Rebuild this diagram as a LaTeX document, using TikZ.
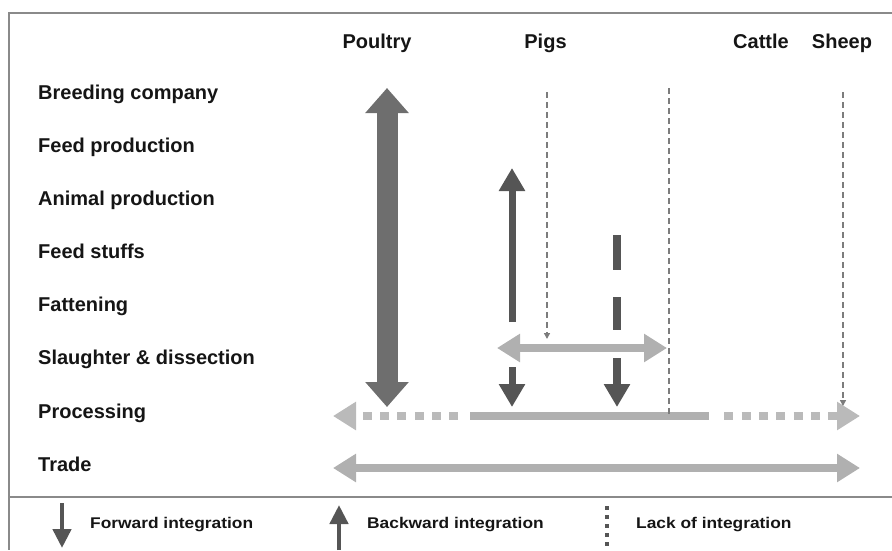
\documentclass[tikz,border=0pt]{standalone}
\usepackage{fontspec}
\setmainfont{Liberation Sans}
\newfontfamily\legfont[FakeStretch=1.12]{Liberation Sans}
\usetikzlibrary{arrows.meta}
\definecolor{txt}{HTML}{151515}
\definecolor{frame}{HTML}{8A8A8A}
\definecolor{dkarrow}{HTML}{555555}
\definecolor{poultry}{HTML}{6E6E6E}
\definecolor{ltarrow}{HTML}{B0B0B0}
\definecolor{ltdots}{HTML}{BABABA}
\definecolor{dashc}{HTML}{7C7C7C}
\tikzset{
  rowlabel/.style={anchor=base west,inner sep=0pt,text=txt,font=\fontsize{20}{24}\selectfont\bfseries},
  header/.style={anchor=base,inner sep=0pt,text=txt,font=\fontsize{20}{24}\selectfont\bfseries},
  legtext/.style={anchor=base west,inner sep=0pt,text=txt,font=\legfont\fontsize{15.5}{18}\selectfont\bfseries},
  bigtip/.tip={Triangle[width=42pt,length=25pt]},
  pigtip/.tip={Triangle[width=25pt,length=23pt]},
  hztip/.tip={Triangle[width=27pt,length=23pt]},
  smalltip/.tip={Triangle[width=6pt,length=6pt]},
  legtip/.tip={Triangle[width=18pt,length=19pt]},
  lackline/.style={draw=dashc,line width=2.2pt,dash pattern=on 6pt off 4pt},
}
\begin{document}
\begin{tikzpicture}[x=1pt,y=-1pt]
\useasboundingbox (0,0) rectangle (892,550);
% frame
\coordinate (fTL) at (9,13);
\coordinate (fTR) at (892,13);
\coordinate (fBL) at (9,550);
\coordinate (sL) at (9,497);
\coordinate (sR) at (892,497);
\draw[frame,line width=1.5pt] (fTR) -- (fTL) -- (fBL);
\draw[frame,line width=1.5pt] (sL) -- (sR);
% headers
\node[header] (hPoultry) at (377,48) {Poultry};
\node[header] (hPigs) at (545.5,48) {Pigs};
\node[header] (hCattle) at (761,48) {Cattle};
\node[header] (hSheep) at (842,48) {Sheep};
% row labels
\node[rowlabel] (r1) at (38,99) {Breeding company};
\node[rowlabel] (r2) at (38,152) {Feed production};
\node[rowlabel] (r3) at (38,205) {Animal production};
\node[rowlabel] (r4) at (38,258) {Feed stuffs};
\node[rowlabel] (r5) at (38,311.5) {Fattening};
\node[rowlabel] (r6) at (38,364.5) {Slaughter \& dissection};
\node[rowlabel] (r7) at (38,418) {Processing};
\node[rowlabel] (r8) at (38,471) {Trade};
% coordinates
\coordinate (pT) at (387,88);
\coordinate (pB) at (387,407);
\coordinate (bwB) at (512,322);
\coordinate (bwT) at (512,168);
\coordinate (fwT) at (512,367);
\coordinate (fwB) at (512,407);
\coordinate (d1a) at (617,235);
\coordinate (d1b) at (617,270);
\coordinate (d2a) at (617,297);
\coordinate (d2b) at (617,330);
\coordinate (f2T) at (617,358);
\coordinate (f2B) at (617,407);
\coordinate (lpT) at (547,92);
\coordinate (lpB) at (547,339);
\coordinate (lcT) at (669,88);
\coordinate (lcB) at (669,416);
\coordinate (lsT) at (843,92);
\coordinate (lsB) at (843,406);
\coordinate (sdL) at (497,348);
\coordinate (sdR) at (667,348);
\coordinate (prL) at (333,416);
\coordinate (prM1) at (466,416);
\coordinate (prM2) at (470,416);
\coordinate (prM3) at (709,416);
\coordinate (prM4) at (716,416);
\coordinate (prR) at (860,416);
\coordinate (trL) at (333,468);
\coordinate (trR) at (860,468);
% poultry
\draw[poultry,line width=21pt,{bigtip}-{bigtip}] (pB) -- (pT);
% processing
\draw[ltdots,line width=7.5pt,dash pattern=on 9pt off 8.3pt,dash phase=9pt,{hztip}-] (prL) -- (prM1);
\draw[ltarrow,line width=7.5pt] (prM2) -- (prM3);
\draw[ltdots,line width=7.5pt,dash pattern=on 9pt off 8.3pt,dash phase=9pt,-{hztip}] (prM4) -- (prR);
% trade
\draw[ltarrow,line width=8pt,{hztip}-{hztip}] (trL) -- (trR);
% lack of integration lines
\draw[lackline,-{smalltip}] (lpT) -- (lpB);
\draw[lackline] (lcT) -- (lcB);
\draw[lackline,-{smalltip}] (lsT) -- (lsB);
% slaughter horizontal
\draw[ltarrow,line width=8pt,{hztip}-{hztip}] (sdL) -- (sdR);
% pigs
\draw[dkarrow,line width=7pt,-{pigtip}] (bwB) -- (bwT);
\draw[dkarrow,line width=7pt,-{pigtip}] (fwT) -- (fwB);
\draw[dkarrow,line width=8pt] (d1a) -- (d1b);
\draw[dkarrow,line width=8pt] (d2a) -- (d2b);
\draw[dkarrow,line width=8pt,-{pigtip}] (f2T) -- (f2B);
% legend
\coordinate (lgFT) at (62,503);
\coordinate (lgFB) at (62,548);
\coordinate (lgBB) at (339,550);
\coordinate (lgBT) at (339,505);
\coordinate (lgLT) at (607,506);
\coordinate (lgLB) at (607,550);
\draw[dkarrow,line width=4.5pt,-{legtip}] (lgFT) -- (lgFB);
\draw[dkarrow,line width=4.5pt,-{legtip}] (lgBB) -- (lgBT);
\draw[dkarrow,line width=3.5pt,dash pattern=on 4pt off 5pt] (lgLT) -- (lgLB);
\node[legtext] (tF) at (90,528) {Forward integration};
\node[legtext] (tB) at (367,528) {Backward integration};
\node[legtext] (tL) at (636,528) {Lack of integration};
\end{tikzpicture}
\end{document}
